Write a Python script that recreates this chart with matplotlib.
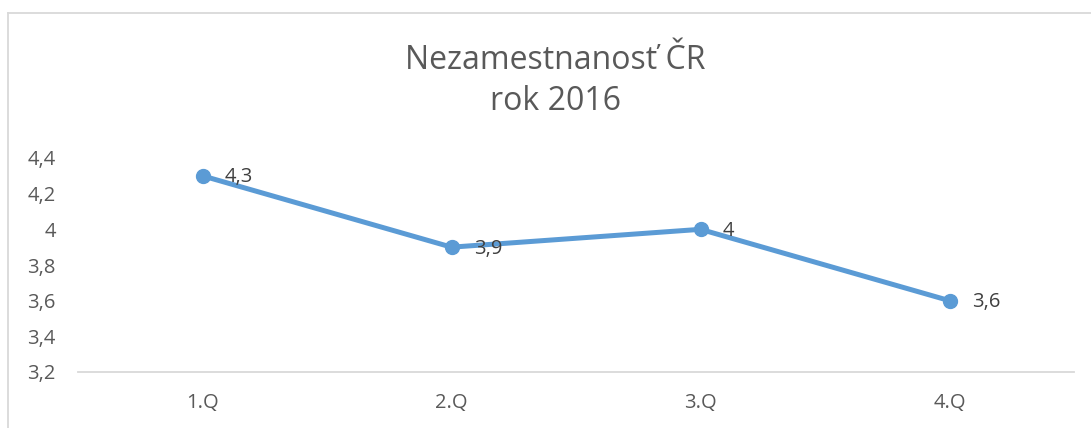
import matplotlib
matplotlib.use("Agg")
import matplotlib.pyplot as plt
from matplotlib.lines import Line2D

categories = ["1.Q", "2.Q", "3.Q", "4.Q"]
values = [4.3, 3.9, 4.0, 3.6]
yticks = [3.2, 3.4, 3.6, 3.8, 4.0, 4.2, 4.4]
title = "Nezamestnanosť ČR\nrok 2016"

def fmt(v):
    s = ("%.1f" % v).rstrip("0").rstrip(".")
    return s.replace(".", ",")

plt.rcParams['font.family'] = ['Open Sans', 'DejaVu Sans']
W, H = 1091, 428
fig = plt.figure(figsize=(W / 100, H / 100), dpi=100)
ax = fig.add_axes([78 / W, 1 - 372 / H, (1074 - 78) / W, (372 - 158) / H])

color = "#5B9BD5"
text_col = "#595959"
grid_col = "#D9D9D9"

x = list(range(len(categories)))
ax.plot(x, values, color=color, lw=3.6, marker="o", markersize=10,
        solid_capstyle="round", zorder=3, clip_on=False)
for xi, v in zip(x, values):
    ax.annotate(fmt(v), (xi, v), xytext=(16, -1), textcoords="offset points",
                ha="left", va="center", fontsize=14.5, color="#404040")

ax.set_xlim(-0.5, len(categories) - 0.5)
ax.set_ylim(3.2, 4.4)
ax.set_yticks(yticks)
ax.set_yticklabels([fmt(t) for t in yticks])
ax.set_xticks(x)
ax.set_xticklabels(categories)
ax.tick_params(axis="both", length=0, labelsize=14.5, labelcolor=text_col)
ax.tick_params(axis="y", pad=16)
ax.tick_params(axis="x", pad=15)
for s in ["top", "right", "left"]:
    ax.spines[s].set_visible(False)
ax.spines["bottom"].set_color(grid_col)
ax.spines["bottom"].set_linewidth(1.3)

fig.text(555 / W, 1 - 81 / H, title, ha="center", va="center",
         fontsize=23, color=text_col, linespacing=1.3)

# chart border (top & left)
fig.add_artist(Line2D([8 / W, 1.0], [1 - 12.5 / H] * 2, color=grid_col,
                      lw=1.3, transform=fig.transFigure))
fig.add_artist(Line2D([8 / W] * 2, [0.0, 1 - 12.5 / H], color=grid_col,
                      lw=1.3, transform=fig.transFigure))

fig.savefig("out.png", dpi=100, facecolor="white")
